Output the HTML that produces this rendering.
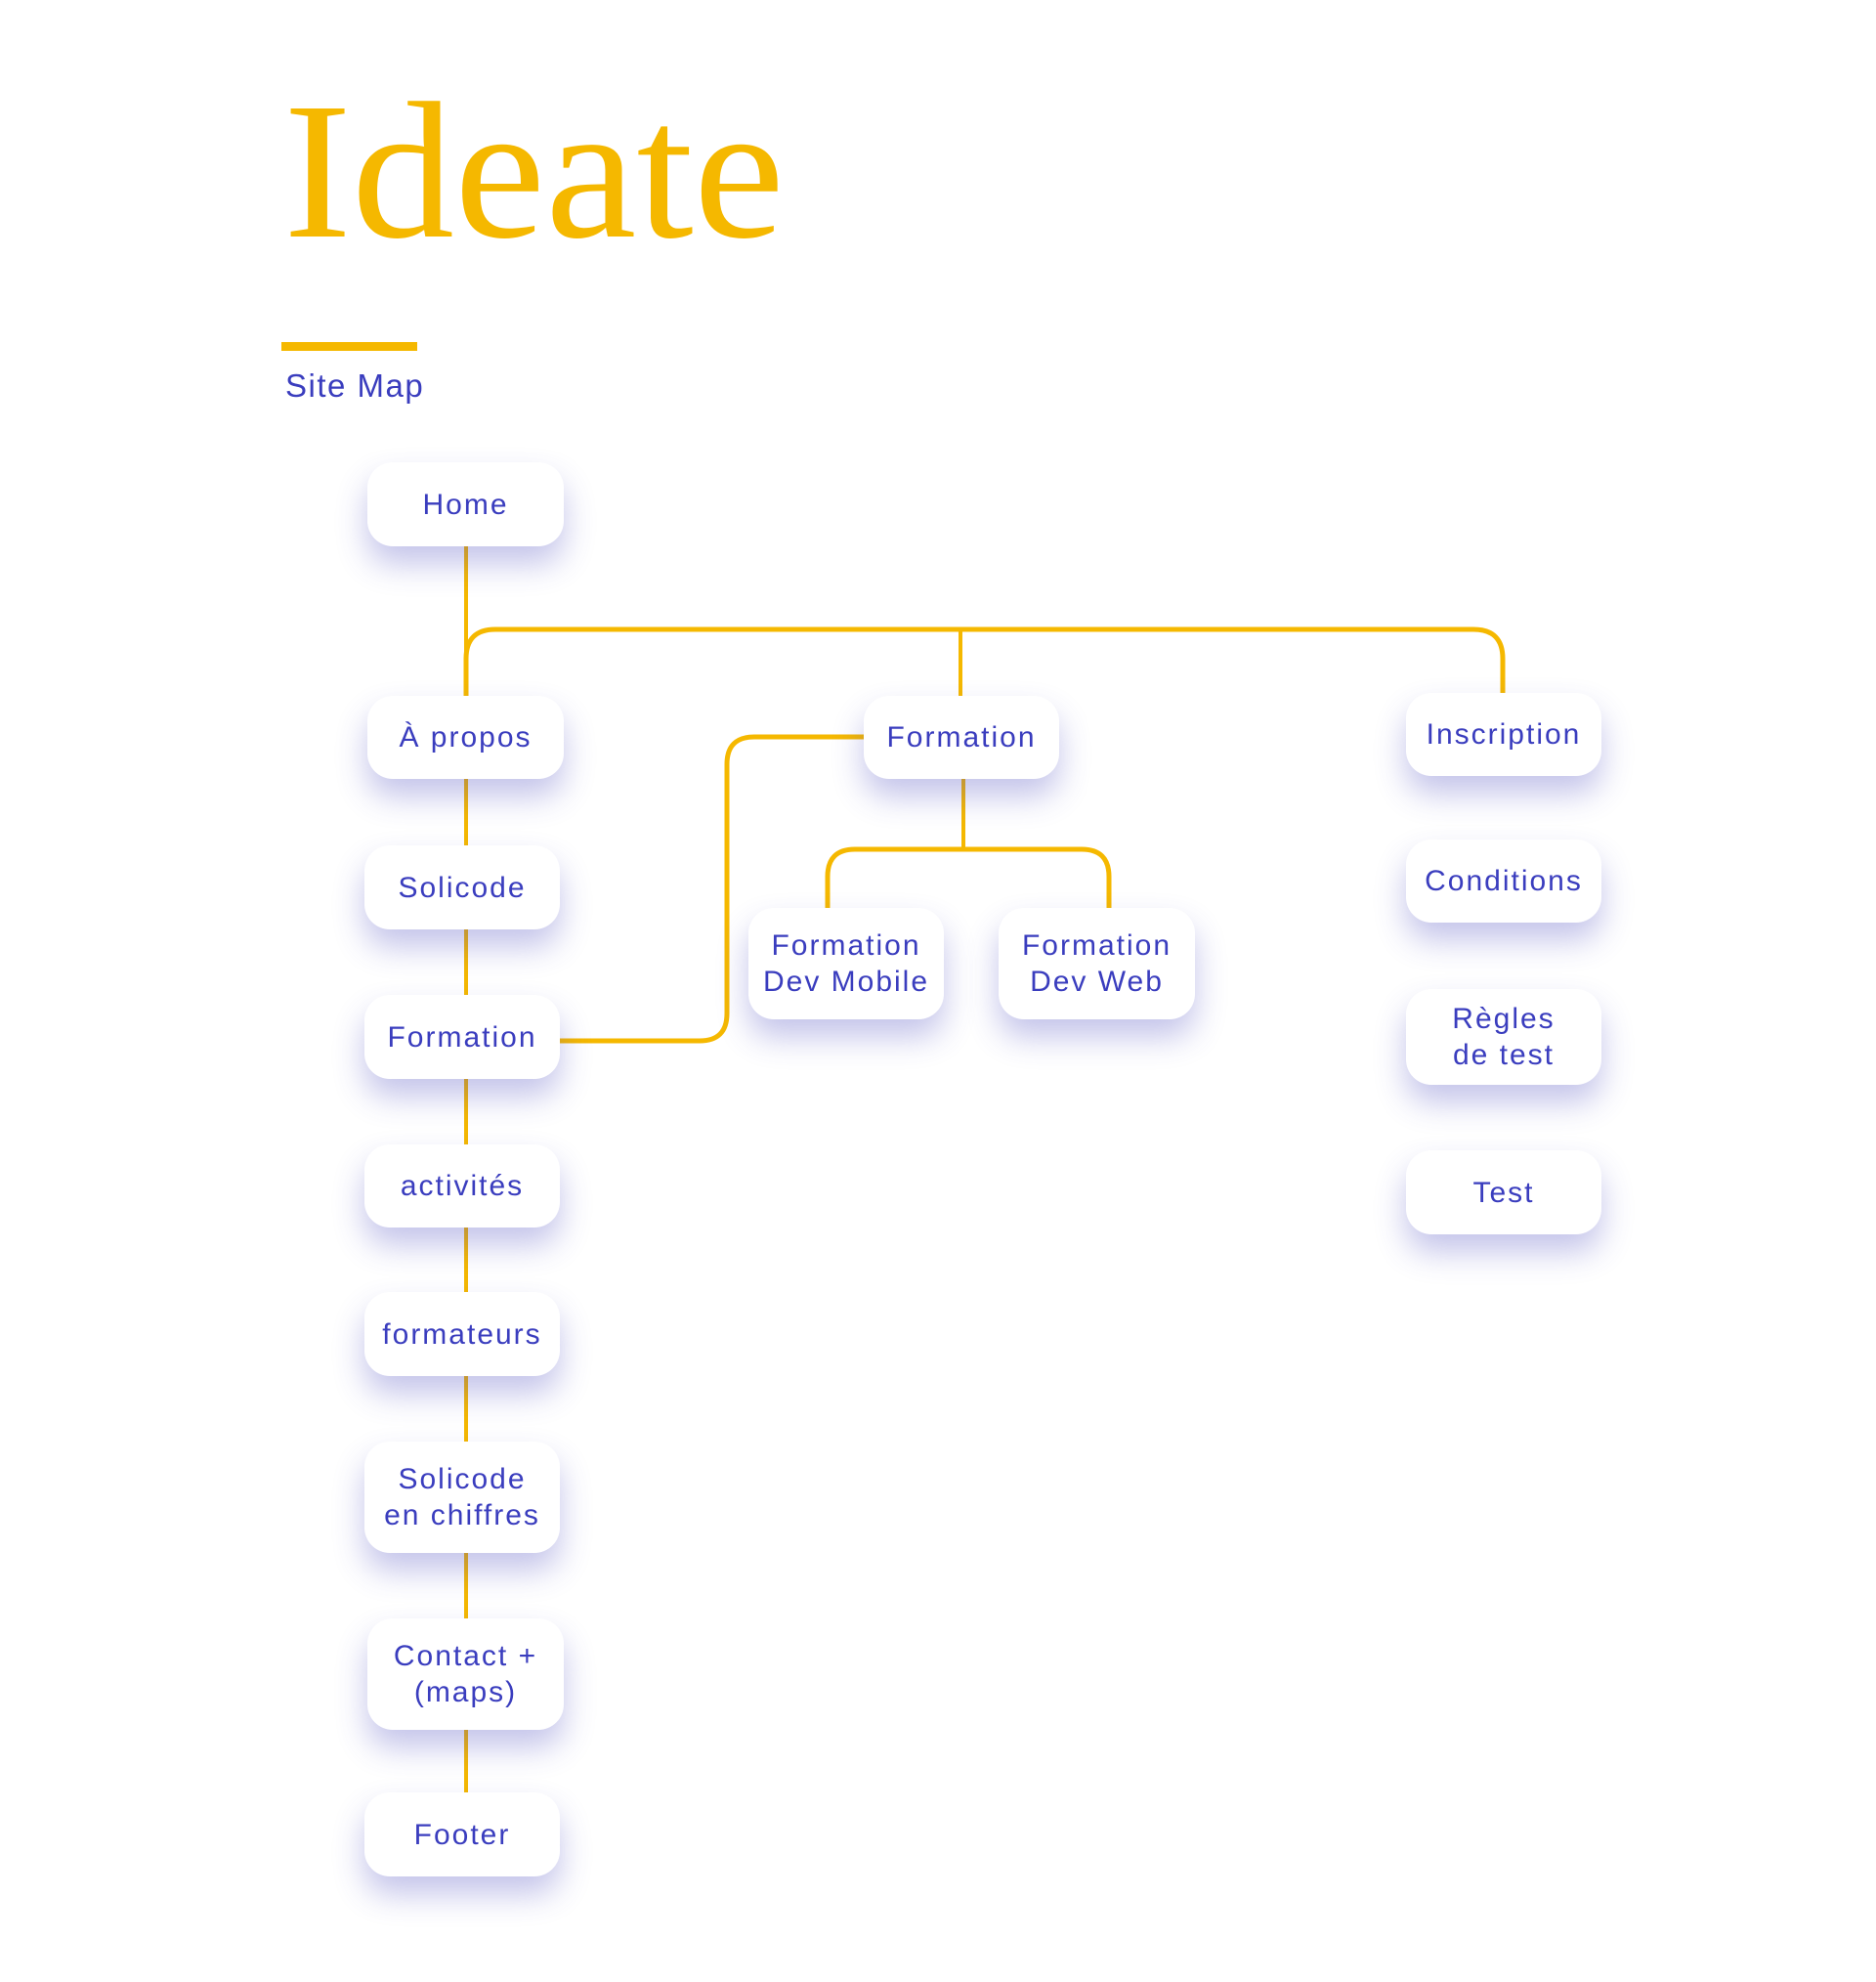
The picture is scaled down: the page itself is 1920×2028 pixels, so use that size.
<!DOCTYPE html>
<html><head><meta charset="utf-8"><style>
body{margin:0;width:1920px;height:2028px;background:#fff;position:relative;overflow:hidden;font-family:"Liberation Sans",sans-serif}
.t{position:absolute;left:290px;top:76px;font-family:"Liberation Serif",serif;font-size:200px;color:#F5B800;line-height:1;transform:scaleX(1.05);transform-origin:0 0;font-weight:normal}
.bar{position:absolute;left:288px;top:350px;width:139px;height:9px;background:#F5B800}
.sm{position:absolute;left:292px;top:376px;font-size:33px;letter-spacing:1.5px;color:#3A3DBE}
.n{position:absolute;background:#fff;border-radius:26px;box-shadow:0 18px 32px rgba(70,70,190,0.32);display:flex;align-items:center;justify-content:center;text-align:center;color:#3A3DBE;font-size:30px;letter-spacing:2px;line-height:37px;z-index:2;white-space:nowrap}
svg{position:absolute;left:0;top:0;z-index:1}
</style></head><body>
<div class="t">Ideate</div>
<div class="bar"></div>
<div class="sm">Site Map</div>
<svg width="1920" height="2028" fill="none" stroke="#F5B800">
<path d="M477 559 V1834" stroke-width="4"/>
<path d="M477 712 V674 Q477 644 507 644 H1508 Q1538 644 1538 674 V709" stroke-width="5"/>
<path d="M983 644 V712" stroke-width="4"/>
<path d="M986 797 V869" stroke-width="4"/>
<path d="M847 929 V897 Q847 869 875 869 H1107 Q1135 869 1135 897 V929" stroke-width="5"/>
<path d="M573 1065 H716 Q744 1065 744 1037 V782 Q744 754 772 754 H884" stroke-width="5"/>
</svg>
<div class="n" style="left:376px;top:473px;width:201px;height:86px">Home</div>
<div class="n" style="left:376px;top:712px;width:201px;height:85px">À propos</div>
<div class="n" style="left:373px;top:865px;width:200px;height:86px">Solicode</div>
<div class="n" style="left:373px;top:1018px;width:200px;height:86px">Formation</div>
<div class="n" style="left:373px;top:1171px;width:200px;height:85px">activités</div>
<div class="n" style="left:373px;top:1322px;width:200px;height:86px">formateurs</div>
<div class="n" style="left:373px;top:1475px;width:200px;height:114px">Solicode<br>en chiffres</div>
<div class="n" style="left:376px;top:1656px;width:201px;height:114px">Contact +<br>(maps)</div>
<div class="n" style="left:373px;top:1834px;width:200px;height:86px">Footer</div>
<div class="n" style="left:884px;top:712px;width:200px;height:85px">Formation</div>
<div class="n" style="left:766px;top:929px;width:200px;height:114px">Formation<br>Dev Mobile</div>
<div class="n" style="left:1022px;top:929px;width:201px;height:114px">Formation<br>Dev Web</div>
<div class="n" style="left:1439px;top:709px;width:200px;height:85px">Inscription</div>
<div class="n" style="left:1439px;top:859px;width:200px;height:85px">Conditions</div>
<div class="n" style="left:1439px;top:1012px;width:200px;height:98px">Règles<br>de test</div>
<div class="n" style="left:1439px;top:1177px;width:200px;height:86px">Test</div>
</body></html>
